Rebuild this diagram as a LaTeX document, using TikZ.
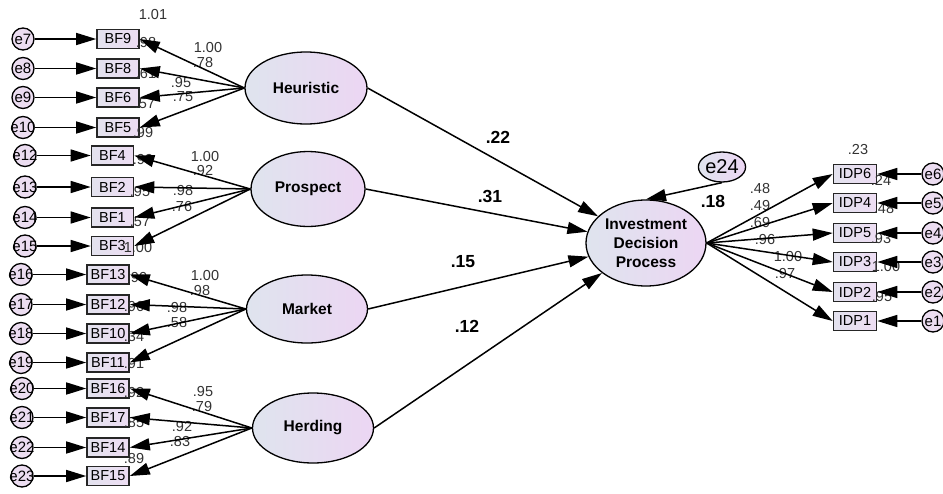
\documentclass[tikz,border=0pt]{standalone}
\usepackage{fontspec}
\setmainfont{Liberation Sans}
\usetikzlibrary{arrows.meta,shapes.geometric}
\definecolor{lvA}{HTML}{DFE4EE}
\definecolor{lvB}{HTML}{ECD6F3}
\definecolor{boxA}{HTML}{E3E2EE}
\definecolor{boxB}{HTML}{EDDDF3}
\definecolor{errc}{HTML}{ECDDF1}
\begin{document}
\begin{tikzpicture}[x=1pt,y=-1pt,
 lat/.style={ellipse, draw, line width=1.3pt, left color=lvA, right color=lvB, font=\fontsize{15.5}{19}\selectfont\bfseries, align=center, inner sep=0pt},
 obs/.style={rectangle, draw=black!85, line width=1.6pt, left color=boxA, right color=boxB, minimum width=42pt, minimum height=19pt, inner sep=0pt, font=\fontsize{14.5}{15}\selectfont},
 err/.style={circle, draw, line width=1.3pt, fill=errc, minimum size=22pt, inner sep=0pt},
 etx/.style={font=\fontsize{15}{15}\selectfont, inner sep=0pt},
 arr/.style={line width=1.5pt, -{Triangle[length=20pt,width=12pt]}},
 lab/.style={font=\fontsize{14.5}{15}\selectfont, inner sep=0pt, text=black!80},
 plab/.style={font=\fontsize{17.5}{19}\selectfont\bfseries, inner sep=0pt}]
\useasboundingbox (0,0) rectangle (943,493);
\fill[white] (0,0) rectangle (943,493);

% latent variables
\node[lat, minimum width=122pt, minimum height=72pt] (heu) at (306,88) {Heuristic};
\node[lat, minimum width=114pt, minimum height=75pt] (pro) at (308,189) {Prospect};
\node[lat, minimum width=121pt, minimum height=68pt] (mar) at (307,309) {Market};
\node[lat, minimum width=121pt, minimum height=70pt] (her) at (313,428) {Herding};
\node[lat, minimum width=120pt, minimum height=86pt] (idp) at (646,243) {Investment\\Decision\\Process};
\node[ellipse, draw, line width=1.3pt, left color=lvA, right color=lvB, minimum width=46pt, minimum height=30pt, inner sep=0pt, font=\fontsize{20}{22}\selectfont] (e24) at (722,167) {e24};

% Heuristic indicators
\node[obs] (bf9) at (118,39) {BF9};
\node[obs] (bf8) at (118,68.5) {BF8};
\node[obs] (bf6) at (118,97.5) {BF6};
\node[obs] (bf5) at (118,127.5) {BF5};
\node[err, label={[etx]center:e7}] (e7) at (23,39) {};
\node[err, label={[etx]center:e8}] (e8) at (23,68.5) {};
\node[err, label={[etx]center:e9}] (e9) at (23,97.5) {};
\node[err, label={[etx]center:e10}] (e10) at (23,127.5) {};

% Prospect indicators
\node[obs] (bf4) at (112.5,155.5) {BF4};
\node[obs] (bf2) at (112.5,187) {BF2};
\node[obs] (bf1) at (112.5,217.5) {BF1};
\node[obs] (bf3) at (112.5,246) {BF3};
\node[err, label={[etx]center:e12}] (e12) at (25,155.5) {};
\node[err, label={[etx]center:e13}] (e13) at (25,187) {};
\node[err, label={[etx]center:e14}] (e14) at (25,217.5) {};
\node[err, label={[etx]center:e15}] (e15) at (25,246) {};

% Market indicators
\node[obs] (bf13) at (108,274.5) {BF13};
\node[obs] (bf12) at (108,304.5) {BF12};
\node[obs] (bf10) at (108,333.5) {BF10};
\node[obs] (bf11) at (108,362.5) {BF11};
\node[err, label={[etx]center:e16}] (e16) at (21,274.5) {};
\node[err, label={[etx]center:e17}] (e17) at (21,304.5) {};
\node[err, label={[etx]center:e18}] (e18) at (21,333.5) {};
\node[err, label={[etx]center:e19}] (e19) at (21,362.5) {};

% Herding indicators
\node[obs] (bf16) at (108,388.5) {BF16};
\node[obs] (bf17) at (108,417.5) {BF17};
\node[obs] (bf14) at (108,447.5) {BF14};
\node[obs] (bf15) at (108,476) {BF15};
\node[err, label={[etx]center:e20}] (e20) at (22,388.5) {};
\node[err, label={[etx]center:e21}] (e21) at (22,417.5) {};
\node[err, label={[etx]center:e22}] (e22) at (22,447.5) {};
\node[err, label={[etx]center:e23}] (e23) at (22,476) {};

% IDP indicators
\node[obs, minimum width=43pt] (idp6) at (855,174) {IDP6};
\node[obs, minimum width=43pt] (idp4) at (855,203) {IDP4};
\node[obs, minimum width=43pt] (idp5) at (855,233) {IDP5};
\node[obs, minimum width=43pt] (idp3) at (855,262) {IDP3};
\node[obs, minimum width=43pt] (idp2) at (855,292) {IDP2};
\node[obs, minimum width=43pt] (idp1) at (855,321) {IDP1};
\node[err, label={[etx]center:e6}] (e6) at (933,174) {};
\node[err, label={[etx]center:e5}] (e5) at (933,203) {};
\node[err, label={[etx]center:e4}] (e4) at (933,233) {};
\node[err, label={[etx]center:e3}] (e3) at (933,262) {};
\node[err, label={[etx]center:e2}] (e2) at (933,292) {};
\node[err, label={[etx]center:e1}] (e1) at (933,321) {};

% labels - Heuristic
\node[lab] (l1) at (153,15) {1.01};
\node[lab] (l2) at (146,43) {.98};
\node[lab] (l3) at (146,74) {.61};
\node[lab] (l4) at (145,104) {.57};
\node[lab] (l5) at (143,133) {.99};
\node[lab] (l6) at (208,48) {1.00};
\node[lab] (l7) at (203,63) {.78};
\node[lab] (l8) at (181,83) {.95};
\node[lab] (l9) at (183,97) {.75};
% labels - Prospect
\node[lab] (l10) at (143,160) {.99};
\node[lab] (l11) at (140,192) {.95};
\node[lab] (l12) at (140,222) {.57};
\node[lab] (l13) at (138,248) {1.00};
\node[lab] (l14) at (205,157) {1.00};
\node[lab] (l15) at (203,171) {.92};
\node[lab] (l16) at (183,191) {.98};
\node[lab] (l17) at (182,207) {.76};
% labels - Market
\node[lab] (l18) at (137,278) {.90};
\node[lab] (l19) at (134,307) {.96};
\node[lab] (l20) at (134,337) {.34};
\node[lab] (l21) at (134,364) {.91};
\node[lab] (l22) at (205,276) {1.00};
\node[lab] (l23) at (200,291) {.98};
\node[lab] (l24) at (177,308) {.98};
\node[lab] (l25) at (177,323) {.58};
% labels - Herding
\node[lab] (l26) at (134,393) {.92};
\node[lab] (l27) at (134,423) {.85};
\node[lab] (l28) at (134,459) {.89};
\node[lab] (l29) at (203,392) {.95};
\node[lab] (l30) at (202,407) {.79};
\node[lab] (l31) at (182,427) {.92};
\node[lab] (l32) at (180,442) {.83};
% labels - IDP
\node[lab] (l33) at (858,150) {.23};
\node[lab] (l34) at (881,180) {.24};
\node[lab] (l35) at (884,209) {.48};
\node[lab] (l36) at (881,239) {.93};
\node[lab] (l37) at (886,267) {1.00};
\node[lab] (l38) at (882,297) {.95};
\node[lab] (l39) at (760,189) {.48};
\node[lab] (l40) at (760,206) {.49};
\node[lab] (l41) at (760,223) {.69};
\node[lab] (l42) at (765,240) {.96};
\node[lab] (l43) at (788,257) {1.00};
\node[lab] (l44) at (785,274) {.97};
% path labels
\node[plab] (p1) at (498,137) {.22};
\node[plab] (p2) at (490,196) {.31};
\node[plab] (p3) at (463,262) {.15};
\node[plab] (p4) at (467,326) {.12};
\node[plab] (p5) at (713,201) {.18};

% error arrows
\foreach \e/\b in {e7/bf9,e8/bf8,e9/bf6,e10/bf5,e12/bf4,e13/bf2,e14/bf1,e15/bf3,e16/bf13,e17/bf12,e18/bf10,e19/bf11,e20/bf16,e21/bf17,e22/bf14,e23/bf15,e6/idp6,e5/idp4,e4/idp5,e3/idp3,e2/idp2,e1/idp1}
  \draw[arr] (\e) -- (\b);
% loadings
\foreach \b in {bf9,bf8,bf6,bf5} \draw[arr] (heu.west) -- (\b.east);
\foreach \b in {bf4,bf2,bf1,bf3} \draw[arr] (pro.west) -- (\b.east);
\foreach \b in {bf13,bf12,bf10,bf11} \draw[arr] (mar.west) -- (\b.east);
\foreach \b in {bf16,bf17,bf14,bf15} \draw[arr] (her.west) -- (\b.east);
\foreach \b in {idp6,idp4,idp5,idp3,idp2,idp1} \draw[arr] (idp.east) -- (\b.west);
% structural paths
\draw[arr] (heu.east) -- (idp);
\draw[arr] (pro.east) -- (idp);
\draw[arr] (mar.east) -- (idp);
\draw[arr] (her.east) -- (idp);
\draw[arr] (e24.south) -- (idp.north);
\end{tikzpicture}
\end{document}
